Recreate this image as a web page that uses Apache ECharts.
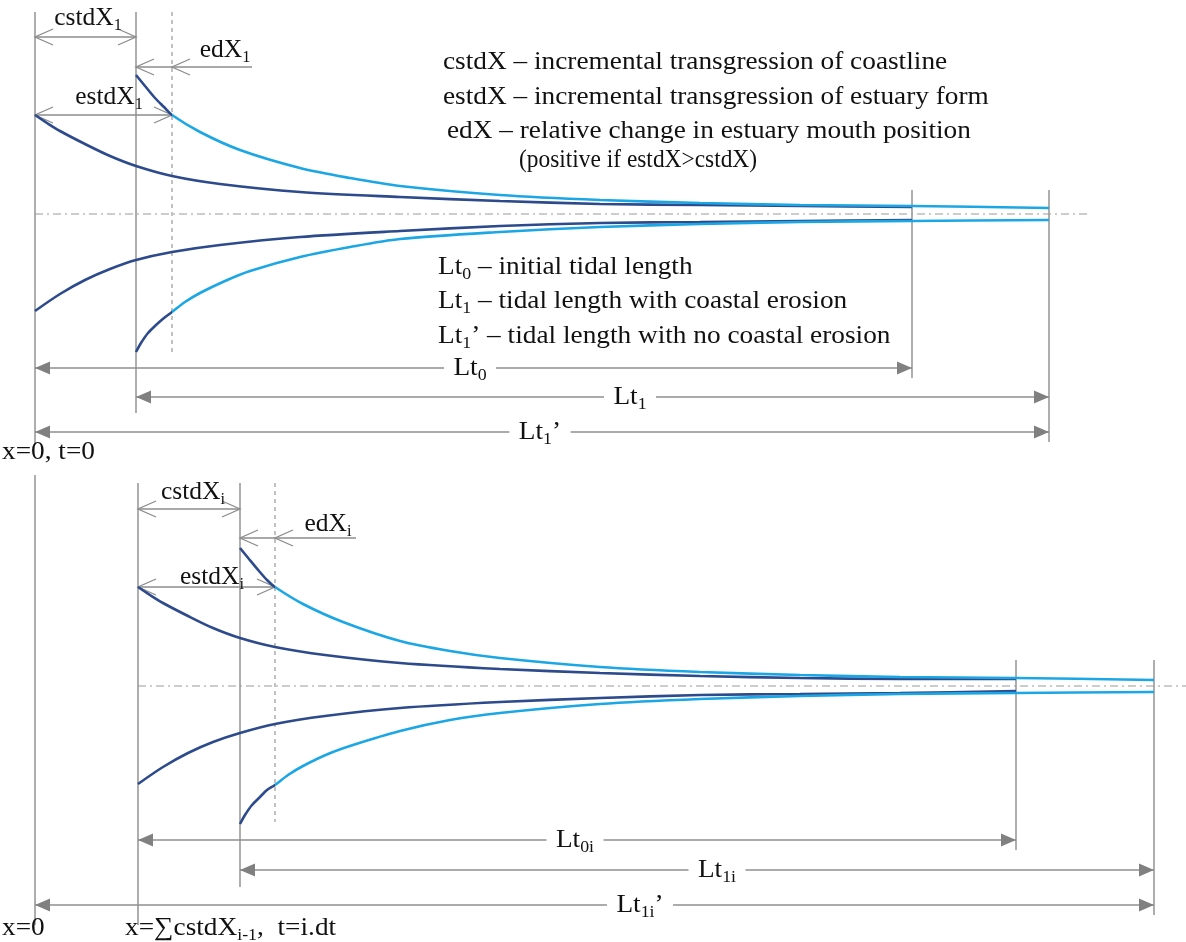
<!DOCTYPE html>
<html><head><meta charset="utf-8">
<script src="https://cdn.jsdelivr.net/npm/echarts@6/dist/echarts.min.js"></script>
<style>html,body{margin:0;padding:0;background:#fff}#c{width:1186px;height:942px}</style>
</head><body><div id="c"></div>
<script>
// x = distance from x=0 (schematic units), y = half-width about the channel axis
// ---------- top panel (t = 0) ----------
const topCoastUpper = [[0,99],[12,91],[25,83],[50,70],[75,58],[101,48],[137,38],[185,30],[265,22],[365,17],[465,13],[565,10],[665,9],[765,8],[877,7]];
const topCoastLower = [[0,-97],[25,-80],[50,-66],[75,-55],[101,-46],[137,-38],[185,-31],[265,-23],[365,-17],[465,-12],[565,-9],[665,-8],[765,-7],[877,-6]];
const topShiftUpper = [[101,139],[110,128],[120,116],[129,107],[137,99],[165,82],[205,64],[265,46],[315,36],[365,28],[465,19],[565,14],[665,11],[765,9],[877,8],[1014,6]];
const topShiftLower = [[101,-138],[106,-129],[113,-119],[121,-111],[129,-104],[137,-98],[150,-88],[165,-79],[190,-67],[215,-57],[265,-43],[315,-33],[365,-25],[465,-18],[565,-13],[665,-10],[765,-8],[877,-7],[1014,-6]];
const topEstuaryMouth = 137;
// ---------- bottom panel (t = i.dt) ----------
const botCoastUpper = [[103,99],[115,91],[128,83],[153,70],[178,58],[205,48],[240,39],[290,31],[365,23],[465,17],[565,13],[665,10],[765,8],[865,7],[981,7]];
const botCoastLower = [[103,-98],[128,-81],[153,-67],[178,-56],[205,-47],[240,-38],[290,-30],[365,-22],[465,-16],[565,-12],[665,-9],[765,-8],[865,-7],[981,-5]];
const botShiftUpper = [[205,138],[214,127],[224,115],[232,106],[240,99],[268,82],[308,64],[365,45],[415,35],[465,28],[565,19],[665,14],[765,11],[865,9],[981,8],[1119,6]];
const botShiftLower = [[205,-138],[210,-129],[217,-119],[225,-111],[232,-104],[240,-99],[253,-89],[268,-80],[293,-68],[318,-59],[365,-45],[415,-34],[465,-27],[565,-18],[665,-13],[765,-10],[865,-8],[981,-7],[1119,-6]];
const botEstuaryMouth = 240;

// annotation values
const topVerticals = [[0,202,-231],[101,202,-199],[877,24,-164],[1014,24,-228]];
const topDashed = [[137,202,-138]];
const topAxis = [[0,1055]];
const topOpenDims = [[0,101,177],[0,137,99]];
const topEdDims = [[101,137,217,147]];
const topLenDims = [[0,877,-154,'Lt{s|0}',435],[101,1014,-183,'Lt{s|1}',595],[0,1014,-218,'Lt{s|1}’',505]];
const topLabels = [[53,196,'cstdX{s|1}'],[190,164,'edX{s|1}'],[74,117,'estdX{s|1}']];
const topNotes = [[408,152,'cstdX – incremental transgression of coastline'],[408,117,'estdX – incremental transgression of estuary form'],[412,83,'edX – relative change in estuary mouth position'],[403,-53,'Lt{s|0} – initial tidal length'],[403,-87,'Lt{s|1} – tidal length with coastal erosion'],[403,-122,'Lt{s|1}’ – tidal length with no coastal erosion'],[-33,-238,'x=0, t=0']];
const topNotesTight = [[484,54,'(positive if estdX>cstdX)']];

const botVerticals = [[0,211,-239],[103,203,-239],[205,203,-201],[981,26,-164],[1119,26,-229]];
const botDashed = [[240,203,-136]];
const botAxis = [[103,1151]];
const botOpenDims = [[103,205,177],[103,240,99]];
const botEdDims = [[205,240,321,148]];
const botLenDims = [[103,981,-154,'Lt{s|0i}',540],[205,1119,-184,'Lt{s|1i}',682],[0,1119,-219,'Lt{s|1i}’',605]];
const botLabels = [[158,194,'cstdX{s|i}'],[293,162,'edX{s|i}'],[177,109,'estdX{s|i}']];
const botNotes = [[-33,-242,'x=0'],[90,-242,'x=∑cstdX{s|i-1},  t=i.dt']];
const botNotesTight = [];

const GRAY = '#8c8c8c';
const DARK = '#2C4A8C';
const LIGHT = '#1BA6E4';
const FONT = 'Liberation Serif';

function textEl(p, txt, align, bg, size, sx) {
  const st = {text:txt, x:0, y:0, fontSize:size, fontFamily:FONT, lineHeight:32, fill:'#111', align:align, verticalAlign:'middle',
    rich:{s:{fontSize:Math.round(size*0.64), fontFamily:FONT, lineHeight:16, verticalAlign:'bottom', fill:'#111'}}};
  if (bg) { st.backgroundColor = '#fff'; st.padding = [0,9,0,9]; }
  return {type:'text', x:p[0], y:p[1], scaleX:sx, style:st, z2:10};
}
function seg(a,b,extra){ return {type:'line', shape:{x1:a[0],y1:a[1],x2:b[0],y2:b[1]}, style:Object.assign({stroke:GRAY, lineWidth:1.4}, extra||{})}; }
function chevron(tip, dir){ return {type:'polyline', shape:{points:[[tip[0]+dir*18,tip[1]-8],tip,[tip[0]+dir*18,tip[1]+8]]}, style:{stroke:GRAY, lineWidth:1.3, fill:null}}; }
function tri(tip, dir){ return {type:'polygon', shape:{points:[tip,[tip[0]+dir*15,tip[1]-6.5],[tip[0]+dir*15,tip[1]+6.5]]}, style:{fill:'#808080'}}; }

function annot(S){
  return function(params, api){
    const P = (x,y)=>api.coord([x,y]);
    const ch = [];
    S.verticals.forEach(v=>ch.push(seg(P(v[0],v[1]),P(v[0],v[2]))));
    S.dashed.forEach(v=>ch.push(seg(P(v[0],v[1]),P(v[0],v[2]),{lineDash:[4,4],lineWidth:1.2,stroke:'#999'})));
    S.axis.forEach(v=>ch.push(seg(P(v[0],0),P(v[1],0),{lineDash:[8,4,2,4],lineWidth:1.2,stroke:'#9a9a9a'})));
    S.open.forEach(d=>{const a=P(d[0],d[2]), b=P(d[1],d[2]); ch.push(seg(a,b)); ch.push(chevron(a,1)); ch.push(chevron(b,-1));});
    S.ed.forEach(d=>{const a=P(d[0],d[3]), b=P(d[1],d[3]), c=P(d[2],d[3]); ch.push(seg(a,c)); ch.push(chevron(a,1)); ch.push(chevron(b,1));});
    S.len.forEach(d=>{const a=P(d[0],d[2]), b=P(d[1],d[2]); ch.push(seg(a,b,{stroke:'#8f8f8f',lineWidth:1.6})); ch.push(tri(a,1)); ch.push(tri(b,-1)); ch.push(textEl(P(d[4],d[2]),d[3],'center',true,26,1.05));});
    S.labels.forEach(l=>ch.push(textEl(P(l[0],l[1]),l[2],'center',false,25,1.02)));
    S.notes.forEach(l=>ch.push(textEl(P(l[0],l[1]),l[2],'left',false,26,1.05)));
    S.tight.forEach(l=>ch.push(textEl(P(l[0],l[1]),l[2],'left',false,26,0.9)));
    return {type:'group', children:ch};
  };
}

function curve(data, color, gi, id){
  return {id:id, type:'line', xAxisIndex:gi, yAxisIndex:gi, data:data, smooth:0.3, showSymbol:false, symbol:'none',
    lineStyle:{color:color, width:2.6}, silent:true, z:3, clip:false};
}

const chart = echarts.init(document.getElementById('c'), null, {renderer:'canvas'});
chart.setOption({
  backgroundColor:'#fff',
  animation:false,
  grid:[{left:0,right:0,top:0,height:470},{left:0,right:0,top:470,height:472}],
  xAxis:[{type:'value',gridIndex:0,min:-35,max:1151,show:false},{type:'value',gridIndex:1,min:-35,max:1151,show:false}],
  yAxis:[{type:'value',gridIndex:0,min:-256,max:214,show:false},{type:'value',gridIndex:1,min:-256,max:216,show:false}],
  series:[
    {type:'custom', xAxisIndex:0, yAxisIndex:0, data:[[0,0]], renderItem:annot({verticals:topVerticals,dashed:topDashed,axis:topAxis,open:topOpenDims,ed:topEdDims,len:topLenDims,labels:topLabels,notes:topNotes,tight:topNotesTight}), silent:true, z:1},
    {type:'custom', xAxisIndex:1, yAxisIndex:1, data:[[0,0]], renderItem:annot({verticals:botVerticals,dashed:botDashed,axis:botAxis,open:botOpenDims,ed:botEdDims,len:botLenDims,labels:botLabels,notes:botNotes,tight:botNotesTight}), silent:true, z:1},
    curve(topCoastUpper, DARK, 0, 'tcu'), curve(topCoastLower, DARK, 0, 'tcl'),
    curve(topShiftUpper, LIGHT, 0, 'tsu'), curve(topShiftLower, LIGHT, 0, 'tsl'),
    curve(botCoastUpper, DARK, 1, 'bcu'), curve(botCoastLower, DARK, 1, 'bcl'),
    curve(botShiftUpper, LIGHT, 1, 'bsu'), curve(botShiftLower, LIGHT, 1, 'bsl')
  ]
});

// colour the shifted curves dark up to the estuary mouth, light beyond (split position via the axis scale)
function splitColor(xi, mouth){
  const W = chart.getWidth();
  const px = chart.convertToPixel({xAxisIndex:xi}, mouth);
  const f = Math.max(0, Math.min(1, px / W));
  return {type:'linear', x:0, y:0, x2:W, y2:0, global:true,
    colorStops:[{offset:0,color:DARK},{offset:f,color:DARK},{offset:f,color:LIGHT},{offset:1,color:LIGHT}]};
}
const cTop = splitColor(0, topEstuaryMouth), cBot = splitColor(1, botEstuaryMouth);
chart.setOption({series:[
  {id:'tsu', lineStyle:{color:cTop}}, {id:'tsl', lineStyle:{color:cTop}},
  {id:'bsu', lineStyle:{color:cBot}}, {id:'bsl', lineStyle:{color:cBot}}
]});
</script></body></html>
